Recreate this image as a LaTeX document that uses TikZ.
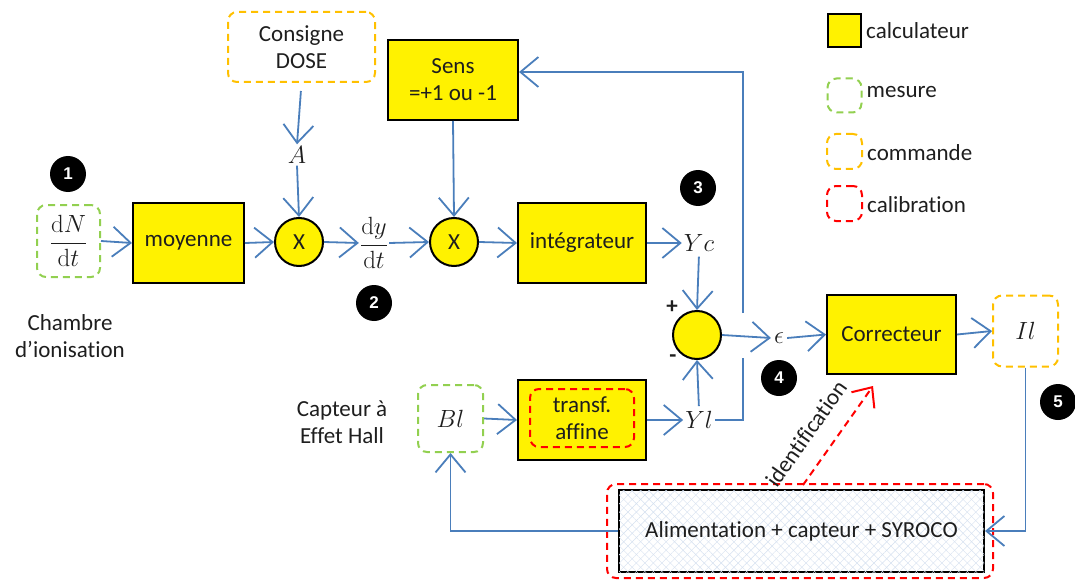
\documentclass[tikz,border=0pt]{standalone}
\usepackage{amsmath}
\usepackage[no-math]{fontspec}
\setmainfont{Carlito}[Ligatures=NoCommon]
\newfontfamily\badgefont{Liberation Sans}
\usetikzlibrary{arrows.meta,patterns.meta}
\definecolor{lblue}{RGB}{74,126,187}
\definecolor{mgreen}{RGB}{146,208,80}
\definecolor{morange}{RGB}{255,192,0}
\definecolor{mred}{RGB}{255,0,0}
\definecolor{hatchc}{RGB}{212,224,240}
\definecolor{txt}{RGB}{30,30,30}
\tikzset{
  every node/.style={font=\fontsize{23}{27}\selectfont, text=txt, align=center},
  mth/.style={font=\fontsize{24.88}{28}\selectfont},
  ybox/.style={draw=black, line width=2pt, fill=yellow, inner sep=0pt},
  ycirc/.style={circle, draw=black, line width=2pt, fill=yellow, minimum size=48pt, inner sep=0pt},
  dbox/.style={draw=#1, line width=2pt, dash pattern=on 7pt off 5pt, rounded corners=9pt, inner sep=0pt},
  gbox/.style={dbox=mgreen},
  obox/.style={dbox=morange},
  rbox/.style={dbox=mred},
  ln/.style={draw=lblue, line width=1.8pt},
  ar/.style={ln, -{Straight Barb[length=18pt,width=30pt,line width=1.8pt]}},
  idar/.style={draw=mred, line width=2pt, dash pattern=on 7pt off 5pt, -{Straight Barb[length=16pt,width=28pt,line width=2pt]}},
  badge/.style={circle, fill=black, minimum size=36pt, inner sep=0pt, text=white, font=\badgefont\bfseries\fontsize{17}{17}\selectfont},
}
\begin{document}
\begin{tikzpicture}[x=1pt,y=-1pt]
\useasboundingbox (0,0) rectangle (1075,580);
% legend
\node[ybox, minimum size=33pt] (lg1) at (844.5,30.5) {};
\node[anchor=west, inner sep=4pt] (lt1) at (lg1.east) {calculateur};
\node[gbox, minimum size=34pt] (lg2) at (844.5,95.5) {};
\node[anchor=west, inner sep=4pt] (lt2) at (lg2.east |- 0,92) {mesure};
\node[obox, minimum size=35pt] (lg3) at (844.5,151.5) {};
\node[anchor=west, inner sep=4pt] (lt3) at (lg3.east |- 0,153) {commande};
\node[rbox, minimum size=35pt] (lg4) at (844.5,203.5) {};
\node[anchor=west, inner sep=4pt] (lt4) at (lg4.east |- 0,205) {calibration};
% blocks
\node[gbox, mth, minimum width=63pt, minimum height=72pt] (dN) at (68.5,241) {$\dfrac{\mathrm{d}N}{\mathrm{d}t}$};
\node (cham) at (70,336) {Chambre\\d’ionisation};
\node[ybox, minimum width=111pt, minimum height=80pt] (moy) at (188.5,243) {moyenne};
\node[ycirc] (x1) at (299,242) {X};
\node[obox, minimum width=147pt, minimum height=70pt] (cons) at (301.5,47) {Consigne\\DOSE};
\node[mth, inner sep=2pt] (A) at (297,155) {$A$};
\node[mth, inner sep=1pt] (dy) at (374,243) {$\dfrac{\mathrm{d}y}{\mathrm{d}t}$};
\node[ycirc] (x2) at (454,242) {X};
\node[ybox, minimum width=130pt, minimum height=80pt] (sens) at (453,80) {Sens\\=+1 ou -1};
\node[ybox, minimum width=128pt, minimum height=80pt] (integ) at (582,243) {intégrateur};
\node[mth, inner sep=2pt] (Yc) at (699,243) {$Yc$};
\node[ycirc] (sum) at (697,335) {};
\node[font=\fontsize{23}{27}\selectfont\bfseries] (plus) at (672,307) {+};
\node[font=\fontsize{23}{27}\selectfont\bfseries] (minus) at (673,359) {-};
\node[mth, inner sep=2pt] (Yl) at (699,420) {$Yl$};
\node[mth, inner sep=3pt] (eps) at (779,338) {$\epsilon$};
\node[ybox, minimum width=129pt, minimum height=79pt] (corr) at (891.5,334.5) {Correcteur};
\node[obox, mth, minimum width=65pt, minimum height=71pt] (Il) at (1025.5,331) {$Il$};
\node[gbox, mth, minimum width=65pt, minimum height=67pt] (Bl) at (450.5,418.5) {$Bl$};
\node (capt) at (342,422) {Capteur à\\Effet Hall};
\node[ybox, minimum width=128pt, minimum height=80pt] (transf) at (582,420) {};
\node[rbox, minimum width=104pt, minimum height=58pt] (transfi) at (582,418) {transf.\\affine};
\node[rbox, minimum width=386pt, minimum height=94pt] (cal) at (800,531) {};
\node[draw=black, line width=2pt, fill=white, minimum width=365pt, minimum height=82pt, inner sep=0pt,
      postaction={pattern={Lines[angle=45,distance=6pt,line width=0.4pt]}, pattern color=hatchc},
      postaction={pattern={Lines[angle=-45,distance=6pt,line width=0.4pt]}, pattern color=hatchc}] (alimbg) at (801.5,531) {};
\node (alim) at (801.5,531) {Alimentation + capteur + SYROCO};
% badges
\node[badge] (b1) at (68,174) {1};
\node[badge] (b2) at (374,303) {2};
\node[badge] (b3) at (698,188) {3};
\node[badge] (b4) at (779,378) {4};
\node[badge] (b5) at (1058,402) {5};
% connectors
\draw[ar] (dN.east) -- (moy.west);
\draw[ar] (moy.east) -- (x1.west);
\draw[ar, shorten <=8pt] (cons.south) -- (A.north);
\draw[ar] (A.south) -- (x1.north);
\draw[ar] (x1.east) -- (dy.west);
\draw[ar] (dy.east) -- (x2.west);
\draw[ar] (sens.south) -- (x2.north);
\draw[ar] (x2.east) -- (integ.west);
\draw[ar] (integ.east) -- (Yc.west);
\draw[ar, shorten <=3pt] (Yc.south) -- (sum.north);
\draw[ar] (sum.east) -- (eps.west);
\draw[ar] (eps.east) -- (corr.west);
\draw[ar] (corr.east) -- (Il.west);
\draw[ar] (Il.south) |- (alimbg.east);
\draw[ar] (alimbg.west) -| (Bl.south);
\draw[ar] (Bl.east) -- (transf.west);
\draw[ar] (transf.east) -- (Yl.west);
\draw[ar, shorten <=3pt] (Yl.north) -- (sum.south);
\coordinate (fa) at (743,313);
\coordinate (fb) at (743,72);
\coordinate (fc) at (743,358);
\coordinate (fd) at (743,420);
\draw[ar] (fa) -- (fb) -- (sens.east |- fb);
\draw[ln] (Yl.east) -- (fd) -- (fc);
\coordinate (idS) at (803,485);
\coordinate (idE) at (873,386);
\draw[idar] (idS) -- node[sloped, above=17pt, pos=0.36, inner sep=1pt] (idl) {identification} (idE);
\end{tikzpicture}
\end{document}
